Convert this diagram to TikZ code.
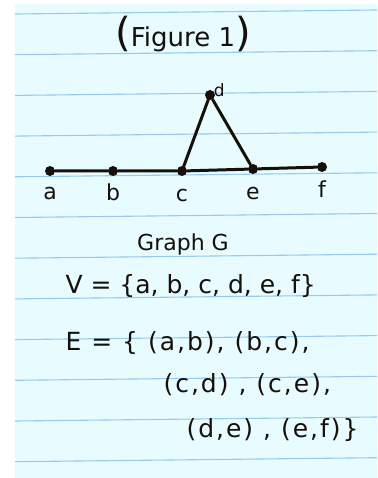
\documentclass[tikz,border=0pt]{standalone}
\usepackage{fontspec}
\setmainfont{DejaVu Sans}
\usepackage{xcolor}
\usepackage{tikz}
\usetikzlibrary{positioning}
\definecolor{paper}{RGB}{232,252,255}
\definecolor{rule}{RGB}{150,202,238}
\definecolor{ink}{RGB}{22,16,10}

\begin{document}
\begin{tikzpicture}[x=1pt, y=-1pt, ink,
    vtx/.style={circle, fill=ink, inner sep=0pt, minimum size=10pt},
    edge/.style={draw=ink, line width=3pt, line cap=round},
    vlabel/.style={font=\fontsize{22}{24}\selectfont, inner sep=0pt}]
  \useasboundingbox (0,0) rectangle (377,478);
  \fill[paper] (15,4) rectangle (377,478);
  \foreach \r in {0,...,11} {
    \draw[rule, line width=1.1pt] (15,{14+40.7*\r}) -- (377,{10+40.7*\r});
  }
  \node[anchor=base, font=\fontsize{26}{30}\selectfont] (title) at (183,47)
    {{\fontsize{40}{40}\selectfont(}Figure 1{\fontsize{40}{40}\selectfont)}};
  \node[vtx] (a) at (50,171) {};
  \node[vtx] (b) at (113,171) {};
  \node[vtx] (c) at (182,171) {};
  \node[vtx] (d) at (210,95) {};
  \node[vtx] (e) at (253,169) {};
  \node[vtx] (f) at (322,167) {};
  \draw[edge] (a) -- (b) -- (c) -- (e) -- (f);
  \draw[edge] (c) -- (d) -- (e);
  \node[vlabel, below=11pt of a] (la) {a};
  \node[vlabel, below=7pt of b] (lb) {b};
  \node[vlabel, below=13pt of c] (lc) {c};
  \node[vlabel, below=13pt of e] (le) {e};
  \node[vlabel, below=8pt of f] (lf) {f};
  \node[vlabel, font=\fontsize{17}{18}\selectfont, above right=-6pt and 0pt of d] (ld) {d};
  \node[anchor=base, font=\fontsize{22}{26}\selectfont] (gname) at (183,250) {Graph G};
  \node[anchor=base west, font=\fontsize{25}{30}\selectfont] (vset) at (62,293)
    {V = \{a, b, c, d, e, f\}};
  \begin{scope}[font=\fontsize{25}{30}\selectfont\addfontfeatures{LetterSpace=8}]
    \node[anchor=base west] (eset1) at (62,350) {E = \{ (a,b), (b,c),};
    \node[anchor=base west] (eset2) at (160,392) {(c,d) , (c,e),};
    \node[anchor=base west] (eset3) at (183,437) {(d,e) , (e,f)\}};
  \end{scope}
\end{tikzpicture}
\end{document}
